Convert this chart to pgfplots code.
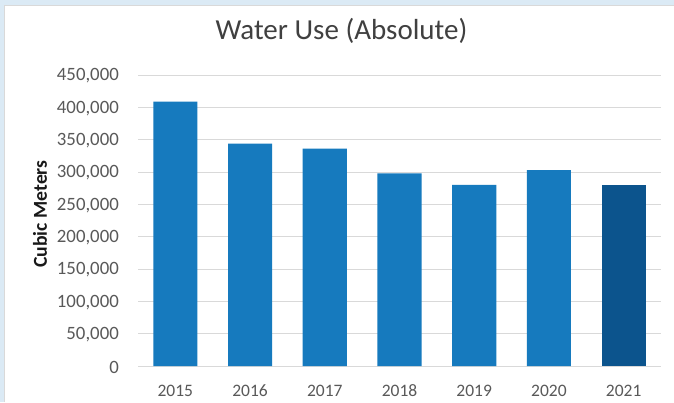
\documentclass[border=0pt]{standalone}
\usepackage{fontspec}
\setmainfont{Carlito}
\usepackage{pgfplots}
\pgfplotsset{compat=1.18}

\definecolor{barblue}{RGB}{22,122,190}
\definecolor{bardark}{RGB}{12,84,141}
\definecolor{frameblue}{RGB}{219,234,245}
\definecolor{gridgray}{RGB}{217,217,217}
\definecolor{ticktext}{RGB}{89,89,89}
\definecolor{titletext}{RGB}{64,64,64}

\begin{document}
\begin{tikzpicture}[x=1pt,y=1pt]
    % panel background
    \fill[frameblue] (0,0) rectangle (674,402);
    \fill[white] (4,0) rectangle (674,397);
    \draw[black!15, line width=0.6pt] (4,0) -- (4,397) -- (674,397);

    \begin{axis}[
        at={(138pt,36pt)},
        anchor=south west,
        scale only axis,
        width=523pt,
        height=291pt,
        ybar,
        bar width=0.59,
        bar shift=0pt,
        xmin=-0.5, xmax=6.5,
        ymin=0, ymax=450000,
        enlargelimits=false,
        xtick={0,...,6},
        xticklabels={2015,2016,2017,2018,2019,2020,2021},
        ytick={0,50000,100000,150000,200000,250000,300000,350000,400000,450000},
        yticklabels={0,{50,000},{100,000},{150,000},{200,000},{250,000},{300,000},{350,000},{400,000},{450,000}},
        scaled y ticks=false,
        major tick length=0pt,
        axis line style={draw=none},
        ymajorgrids,
        grid style={gridgray, line width=0.9pt},
        tick label style={text=ticktext},
        xticklabel style={inner sep=0pt, anchor=base, yshift=-30.5pt, font=\fontsize{17.5}{20}\selectfont},
        yticklabel style={inner sep=0pt, xshift=-19pt, yshift=-1pt, font=\fontsize{18.8}{20}\selectfont},
        ylabel={Cubic Meters},
        ylabel style={at={(axis description cs:-0.174,0.522)}, anchor=base,
            inner sep=0pt, font=\fontsize{19.7}{22}\selectfont\bfseries, text=black!90},
        title={Water Use (Absolute)},
        title style={at={(axis description cs:0.389,1.0997)}, anchor=base,
            inner sep=0pt, font=\fontsize{29}{32}\selectfont, text=titletext},
    ]
        \addplot[fill=barblue, draw=none] coordinates {
            (0,409000) (1,344000) (2,336000) (3,298000) (4,280000) (5,303000)
        };
        \addplot[fill=bardark, draw=none] coordinates {
            (6,280000)
        };
    \end{axis}
    \pgfresetboundingbox
    \useasboundingbox (0,0) rectangle (674,402);
\end{tikzpicture}
\end{document}
